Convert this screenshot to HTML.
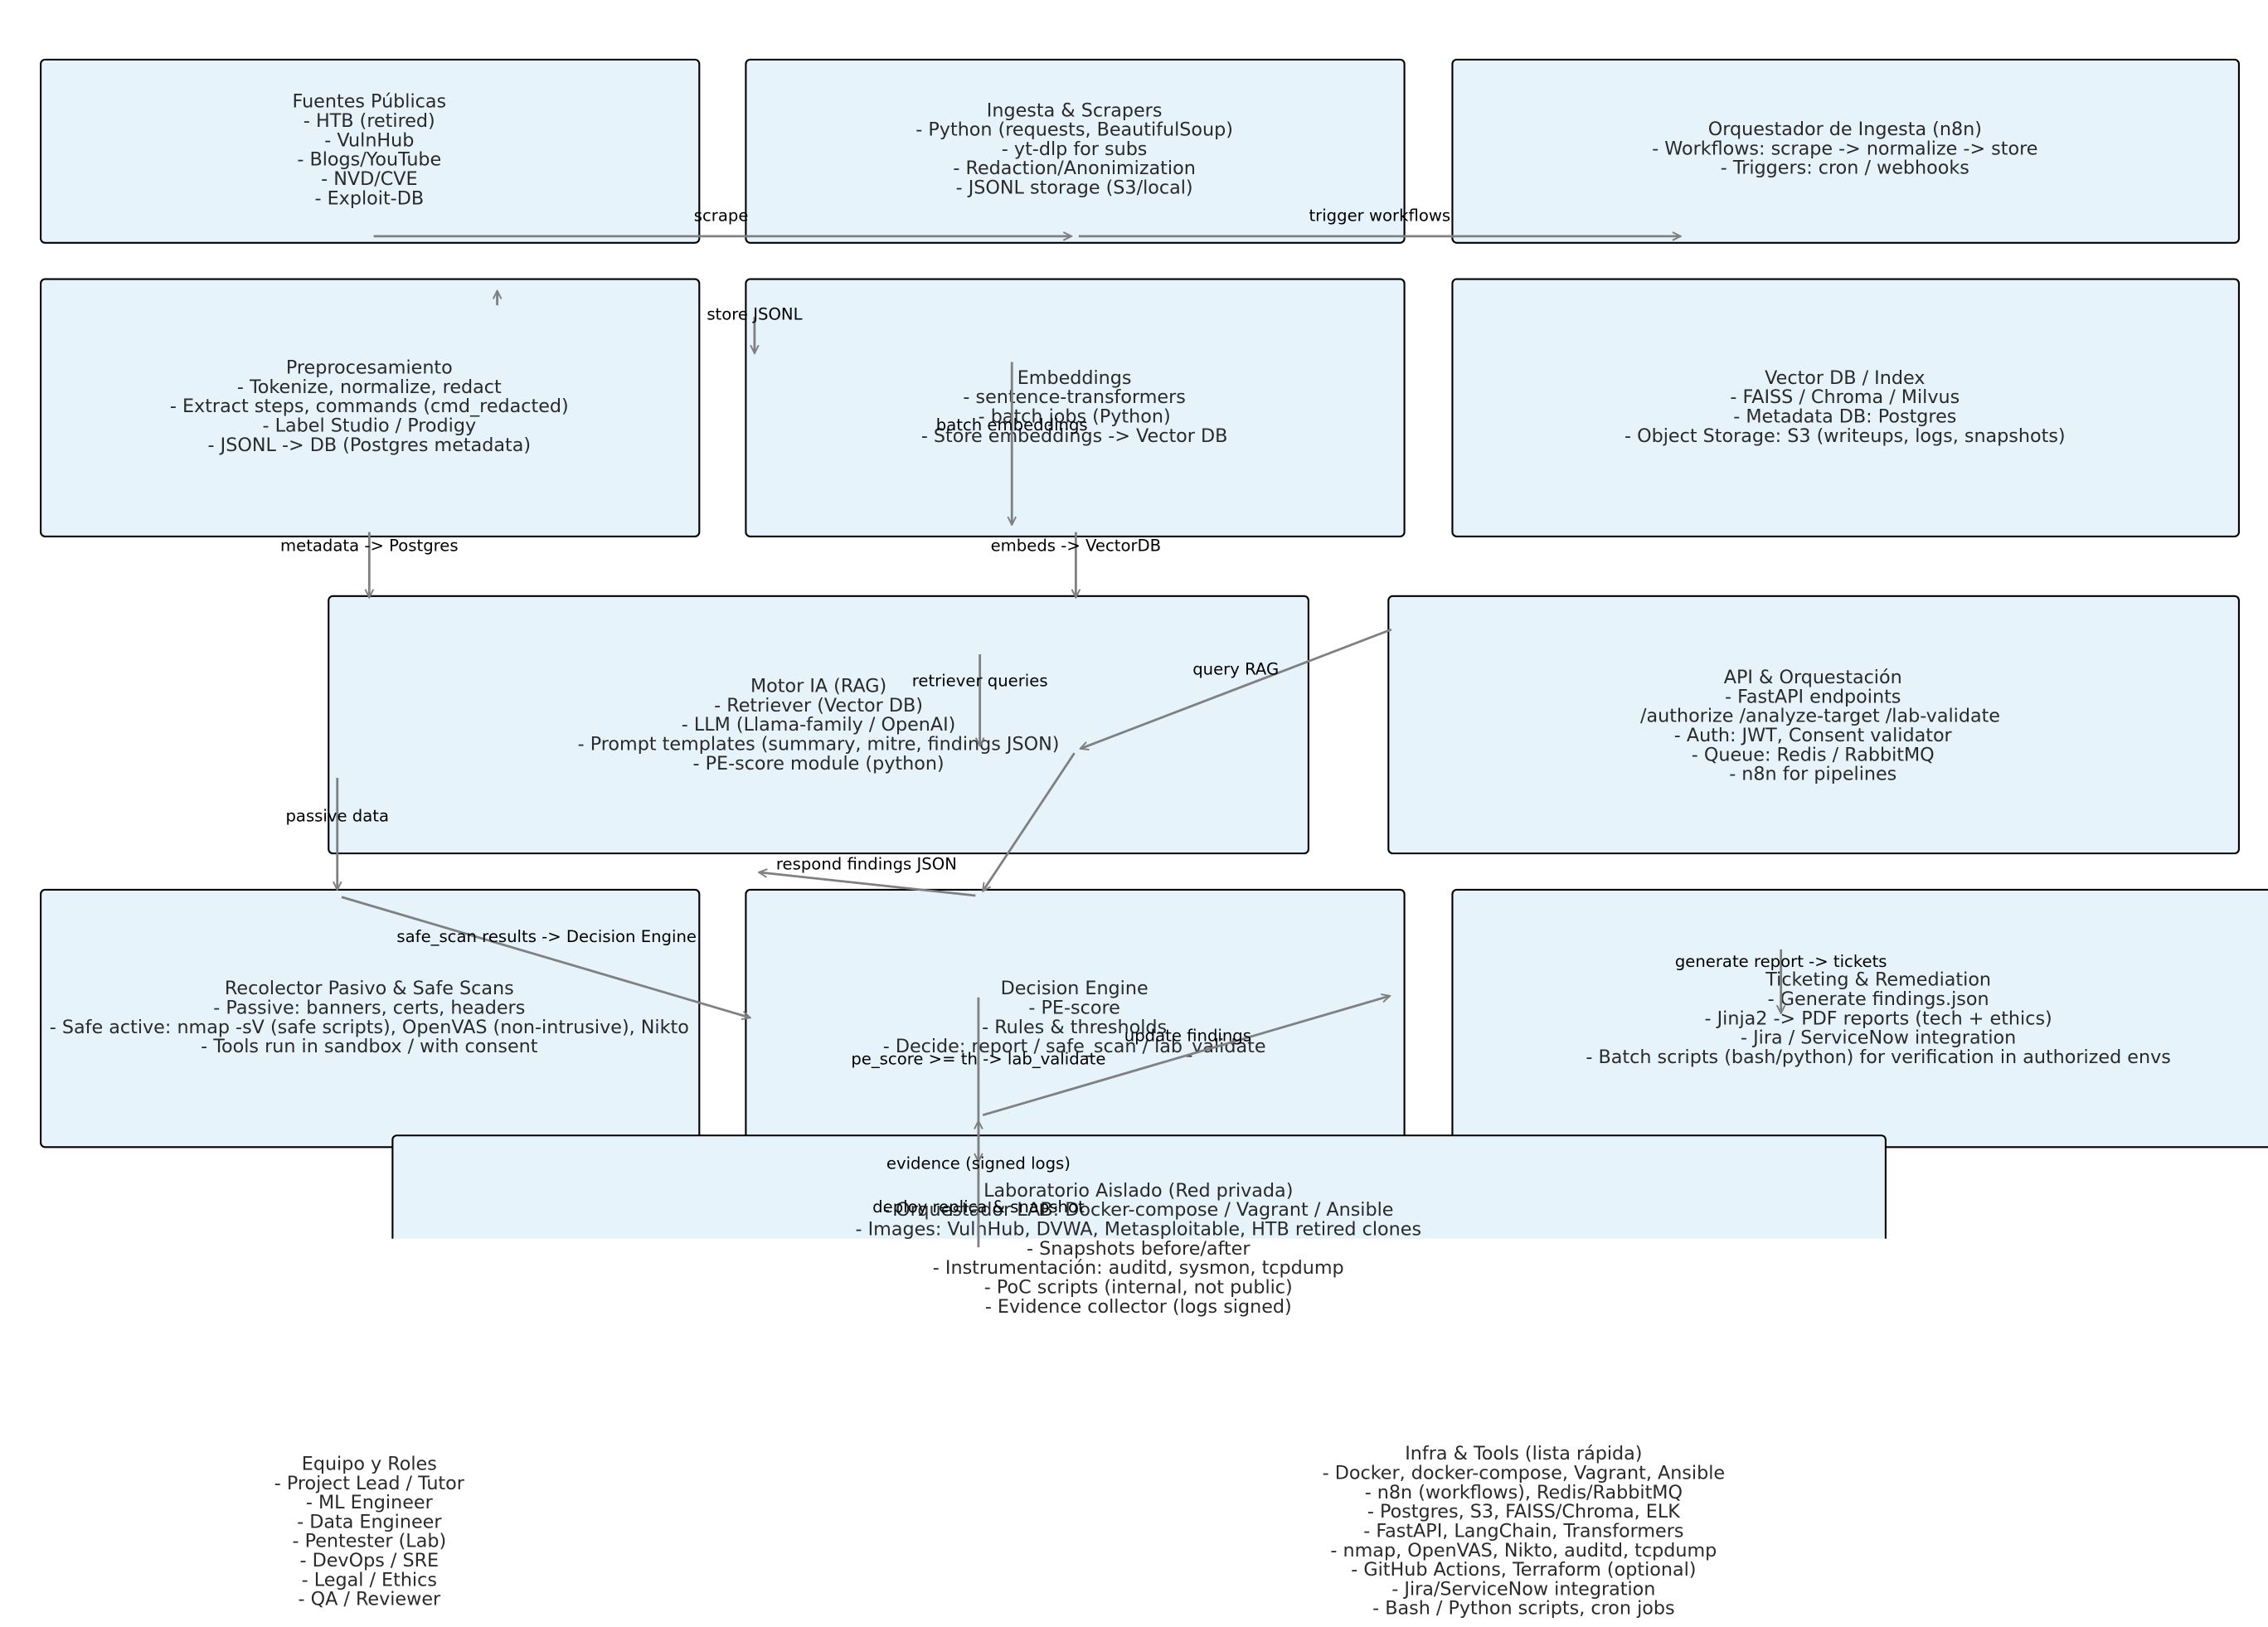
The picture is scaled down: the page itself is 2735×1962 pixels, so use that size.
<!DOCTYPE html>
<html><head><meta charset="utf-8"><style>
html,body{margin:0;padding:0;background:#fff;}
svg{display:block;}
.b{fill:#e6f3fb;stroke:#000;stroke-width:1.2;}
.t{font-family:"DejaVu Sans","Liberation Sans",sans-serif;font-size:12.7px;fill:#2a2a2a;text-anchor:middle;}
.l{font-family:"DejaVu Sans","Liberation Sans",sans-serif;font-size:11.2px;fill:#000;text-anchor:middle;}
.a{stroke:#808080;stroke-width:1.6;fill:none;marker-end:url(#m);}
</style></head><body>
<svg width="2735" height="1962" viewBox="0 0 1560 1119.1" xmlns="http://www.w3.org/2000/svg">
<defs><marker id="m" viewBox="0 0 10 10" refX="9" refY="5" markerWidth="7" markerHeight="7" orient="auto" markerUnits="userSpaceOnUse"><polyline points="1,1 9,5 1,9" fill="none" stroke="#808080" stroke-width="1.6"/></marker></defs>
<rect class="b" x="28" y="41" width="453" height="126" rx="3"/>
<rect class="b" x="513" y="41" width="453" height="126" rx="3"/>
<rect class="b" x="999" y="41" width="541" height="126" rx="3"/>
<rect class="b" x="28" y="192" width="453" height="177" rx="3"/>
<rect class="b" x="513" y="192" width="453" height="177" rx="3"/>
<rect class="b" x="999" y="192" width="541" height="177" rx="3"/>
<rect class="b" x="226" y="410" width="674" height="177" rx="3"/>
<rect class="b" x="955" y="410" width="585" height="177" rx="3"/>
<rect class="b" x="28" y="612" width="453" height="177" rx="3"/>
<rect class="b" x="513" y="612" width="453" height="177" rx="3"/>
<rect class="b" x="999" y="612" width="620" height="177" rx="3"/>
<rect class="b" x="270" y="781" width="1027" height="140" rx="3"/>
<rect x="0" y="852" width="1560" height="270" fill="#fff"/>

<text class="t" y="74"><tspan x="254">Fuentes Públicas</tspan><tspan x="254" dy="13.3">- HTB (retired)</tspan><tspan x="254" dy="13.3">- VulnHub</tspan><tspan x="254" dy="13.3">- Blogs/YouTube</tspan><tspan x="254" dy="13.3">- NVD/CVE</tspan><tspan x="254" dy="13.3">- Exploit-DB</tspan></text>
<text class="t" y="80"><tspan x="739">Ingesta &amp; Scrapers</tspan><tspan x="739" dy="13.3">- Python (requests, BeautifulSoup)</tspan><tspan x="739" dy="13.3">- yt-dlp for subs</tspan><tspan x="739" dy="13.3">- Redaction/Anonimization</tspan><tspan x="739" dy="13.3">- JSONL storage (S3/local)</tspan></text>
<text class="t" y="93"><tspan x="1269">Orquestador de Ingesta (n8n)</tspan><tspan x="1269" dy="13.3">- Workflows: scrape -&gt; normalize -&gt; store</tspan><tspan x="1269" dy="13.3">- Triggers: cron / webhooks</tspan></text>
<text class="t" y="257"><tspan x="254">Preprocesamiento</tspan><tspan x="254" dy="13.3">- Tokenize, normalize, redact</tspan><tspan x="254" dy="13.3">- Extract steps, commands (cmd_redacted)</tspan><tspan x="254" dy="13.3">- Label Studio / Prodigy</tspan><tspan x="254" dy="13.3">- JSONL -&gt; DB (Postgres metadata)</tspan></text>
<text class="t" y="264"><tspan x="739">Embeddings</tspan><tspan x="739" dy="13.3">- sentence-transformers</tspan><tspan x="739" dy="13.3">- batch jobs (Python)</tspan><tspan x="739" dy="13.3">- Store embeddings -&gt; Vector DB</tspan></text>
<text class="t" y="264"><tspan x="1269">Vector DB / Index</tspan><tspan x="1269" dy="13.3">- FAISS / Chroma / Milvus</tspan><tspan x="1269" dy="13.3">- Metadata DB: Postgres</tspan><tspan x="1269" dy="13.3">- Object Storage: S3 (writeups, logs, snapshots)</tspan></text>
<text class="t" y="476"><tspan x="563">Motor IA (RAG)</tspan><tspan x="563" dy="13.3">- Retriever (Vector DB)</tspan><tspan x="563" dy="13.3">- LLM (Llama-family / OpenAI)</tspan><tspan x="563" dy="13.3">- Prompt templates (summary, mitre, findings JSON)</tspan><tspan x="563" dy="13.3">- PE-score module (python)</tspan></text>
<text class="t" y="470"><tspan x="1247">API &amp; Orquestación</tspan><tspan x="1247" dy="13.3">- FastAPI endpoints</tspan><tspan x="1252" dy="13.3">/authorize /analyze-target /lab-validate</tspan><tspan x="1247" dy="13.3">- Auth: JWT, Consent validator</tspan><tspan x="1247" dy="13.3">- Queue: Redis / RabbitMQ</tspan><tspan x="1247" dy="13.3">- n8n for pipelines</tspan></text>
<text class="t" y="684"><tspan x="254">Recolector Pasivo &amp; Safe Scans</tspan><tspan x="254" dy="13.3">- Passive: banners, certs, headers</tspan><tspan x="254" dy="13.3">- Safe active: nmap -sV (safe scripts), OpenVAS (non-intrusive), Nikto</tspan><tspan x="254" dy="13.3">- Tools run in sandbox / with consent</tspan></text>
<text class="t" y="684"><tspan x="739">Decision Engine</tspan><tspan x="739" dy="13.3">- PE-score</tspan><tspan x="739" dy="13.3">- Rules &amp; thresholds</tspan><tspan x="739" dy="13.3">- Decide: report / safe_scan / lab_validate</tspan></text>
<text class="t" y="678"><tspan x="1292">Ticketing &amp; Remediation</tspan><tspan x="1292" dy="13.3">- Generate findings.json</tspan><tspan x="1292" dy="13.3">- Jinja2 -&gt; PDF reports (tech + ethics)</tspan><tspan x="1292" dy="13.3">- Jira / ServiceNow integration</tspan><tspan x="1292" dy="13.3">- Batch scripts (bash/python) for verification in authorized envs</tspan></text>
<text class="t" y="823"><tspan x="783">Laboratorio Aislado (Red privada)</tspan><tspan x="783" dy="13.3">- Orquestador LAB: Docker-compose / Vagrant / Ansible</tspan><tspan x="783" dy="13.3">- Images: VulnHub, DVWA, Metasploitable, HTB retired clones</tspan><tspan x="783" dy="13.3">- Snapshots before/after</tspan><tspan x="783" dy="13.3">- Instrumentación: auditd, sysmon, tcpdump</tspan><tspan x="783" dy="13.3">- PoC scripts (internal, not public)</tspan><tspan x="783" dy="13.3">- Evidence collector (logs signed)</tspan></text>
<text class="t" y="1011"><tspan x="254">Equipo y Roles</tspan><tspan x="254" dy="13.3">- Project Lead / Tutor</tspan><tspan x="254" dy="13.3">- ML Engineer</tspan><tspan x="254" dy="13.3">- Data Engineer</tspan><tspan x="254" dy="13.3">- Pentester (Lab)</tspan><tspan x="254" dy="13.3">- DevOps / SRE</tspan><tspan x="254" dy="13.3">- Legal / Ethics</tspan><tspan x="254" dy="13.3">- QA / Reviewer</tspan></text>
<text class="t" y="1004"><tspan x="1048">Infra &amp; Tools (lista rápida)</tspan><tspan x="1048" dy="13.3">- Docker, docker-compose, Vagrant, Ansible</tspan><tspan x="1048" dy="13.3">- n8n (workflows), Redis/RabbitMQ</tspan><tspan x="1048" dy="13.3">- Postgres, S3, FAISS/Chroma, ELK</tspan><tspan x="1048" dy="13.3">- FastAPI, LangChain, Transformers</tspan><tspan x="1048" dy="13.3">- nmap, OpenVAS, Nikto, auditd, tcpdump</tspan><tspan x="1048" dy="13.3">- GitHub Actions, Terraform (optional)</tspan><tspan x="1048" dy="13.3">- Jira/ServiceNow integration</tspan><tspan x="1048" dy="13.3">- Bash / Python scripts, cron jobs</tspan></text>

<line class="a" x1="257" y1="162.5" x2="737" y2="162.5"/>
<line class="a" x1="742" y1="162.5" x2="1156" y2="162.5"/>
<line class="a" x1="342" y1="210" x2="342" y2="200"/>
<line class="a" x1="519" y1="218" x2="519" y2="243"/>
<line class="a" x1="696" y1="249" x2="696" y2="361"/>
<line class="a" x1="254" y1="366" x2="254" y2="411"/>
<line class="a" x1="740" y1="366" x2="740" y2="411"/>
<line class="a" x1="674" y1="450" x2="674" y2="513"/>
<line class="a" x1="957" y1="433" x2="743" y2="515"/>
<line class="a" x1="739" y1="518" x2="676" y2="613"/>
<line class="a" x1="671" y1="616" x2="522" y2="600"/>
<line class="a" x1="232" y1="535" x2="232" y2="612"/>
<line class="a" x1="235" y1="617" x2="516" y2="700"/>
<line class="a" x1="676" y1="767" x2="956" y2="685"/>
<line class="a" x1="1225" y1="653" x2="1225" y2="697"/>
<line class="a" x1="673" y1="686" x2="673" y2="799"/>
<line class="a" x1="673" y1="858" x2="673" y2="771"/>

<text class="l" x="496" y="152">scrape</text>
<text class="l" x="949" y="152">trigger workflows</text>
<text class="l" x="519" y="220">store JSONL</text>
<text class="l" x="696" y="296">batch embeddings</text>
<text class="l" x="254" y="379">metadata -&gt; Postgres</text>
<text class="l" x="740" y="379">embeds -&gt; VectorDB</text>
<text class="l" x="674" y="472">retriever queries</text>
<text class="l" x="850" y="464">query RAG</text>
<text class="l" x="596" y="598">respond findings JSON</text>
<text class="l" x="232" y="565">passive data</text>
<text class="l" x="376" y="648">safe_scan results -&gt; Decision Engine</text>
<text class="l" x="817" y="716">update findings</text>
<text class="l" x="1225" y="665">generate report -&gt; tickets</text>
<text class="l" x="673" y="732">pe_score &gt;= th -&gt; lab_validate</text>
<text class="l" x="673" y="804">evidence (signed logs)</text>
<text class="l" x="673" y="834">deploy replica &amp; snapshot</text>
</svg>
</body></html>
